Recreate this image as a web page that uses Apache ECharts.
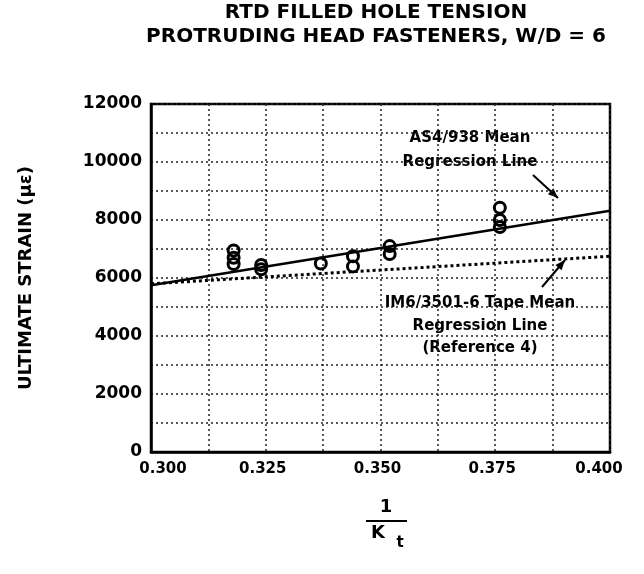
<!DOCTYPE html>
<html>
<head>
<meta charset="utf-8">
<script src="https://cdn.jsdelivr.net/npm/echarts@6/dist/echarts.min.js"></script>
<style>
  html, body { margin: 0; padding: 0; background: #fff; }
  #chart { width: 644px; height: 574px; }
</style>
</head>
<body>
<div id="chart"></div>
<script>
(function () {
    // test points, 1/Kt vs ultimate strain
    var kInv = [0.318, 0.318, 0.318, 0.324, 0.324, 0.337, 0.344, 0.344, 0.352, 0.352, 0.376, 0.376, 0.376];
    var strain = [6950, 6700, 6480, 6450, 6300, 6500, 6750, 6400, 7100, 6830, 8420, 8000, 7760];

    // regression lines (end points)
    var lineX = [0.300, 0.400];
    var as4Line = [5750, 8320];
    var im6Line = [5800, 6750];

    var xTicks = ['0.300', '0.325', '0.350', '0.375', '0.400'];
    var yTicks = [0, 2000, 4000, 6000, 8000, 10000, 12000];

    var font = 'DejaVu Sans';
    var pts = kInv.map(function (x, i) { return [x, strain[i]]; });
    var as4 = lineX.map(function (x, i) { return [x, as4Line[i]]; });
    var im6 = lineX.map(function (x, i) { return [x, im6Line[i]]; });

    function arrowHead(x1, y1, x2, y2) {
        var a = Math.atan2(y2 - y1, x2 - x1), len = 10, w = 4;
        var bx = x2 - len * Math.cos(a), by = y2 - len * Math.sin(a);
        return [[x2, y2],
            [bx + w * Math.sin(a), by - w * Math.cos(a)],
            [bx - w * Math.sin(a), by + w * Math.cos(a)]];
    }
    function arrow(x1, y1, x2, y2) {
        return [
            { type: 'line', shape: { x1: x1, y1: y1, x2: x2, y2: y2 }, style: { stroke: '#000', lineWidth: 2 } },
            { type: 'polygon', shape: { points: arrowHead(x1, y1, x2, y2) }, style: { fill: '#000' } }
        ];
    }

    var gridLine = { show: true, lineStyle: { color: '#222', width: 1.5, type: [2, 3] } };

    var myChart = echarts.init(document.getElementById('chart'));
    var option = {
        backgroundColor: '#fff',
        animation: false,
        title: {
            text: 'RTD FILLED HOLE TENSION\nPROTRUDING HEAD FASTENERS, W/D = 6',
            left: 376,
            top: 1,
            padding: 0,
            textAlign: 'center',
            textStyle: { fontFamily: font, fontWeight: 'bold', fontSize: 20, lineHeight: 24, color: '#000' }
        },
        grid: {
            left: 151, right: 34, top: 104, bottom: 122,
            show: true, borderColor: '#000', borderWidth: 2.5, backgroundColor: 'transparent'
        },
        xAxis: {
            type: 'value',
            min: 0.3, max: 0.4, interval: 0.0125,
            axisLine: { lineStyle: { color: '#000', width: 2.5 } },
            axisTick: { show: false },
            splitLine: gridLine,
            axisLabel: {
                margin: 10,
                color: '#000',
                fontFamily: font, fontWeight: 'bold', fontSize: 15,
                formatter: function (v) {
                    var s = v.toFixed(3);
                    var i = xTicks.indexOf(s);
                    if (i < 0) return '';
                    if (i === 0) return '{a|' + s + '}';
                    if (i === xTicks.length - 1) return '{b|' + s + '}';
                    return '{c|' + s + '}';
                },
                rich: {
                    a: { padding: [0, 0, 0, 24], fontFamily: font, fontWeight: 'bold', fontSize: 15, color: '#000' },
                    b: { padding: [0, 22, 0, 0], fontFamily: font, fontWeight: 'bold', fontSize: 15, color: '#000' },
                    c: { padding: [0, 6, 0, 0], fontFamily: font, fontWeight: 'bold', fontSize: 15, color: '#000' }
                }
            }
        },
        yAxis: {
            type: 'value',
            min: 0, max: 12000, interval: 1000,
            name: 'ULTIMATE STRAIN (με)',
            nameLocation: 'middle',
            nameGap: 116,
            nameTextStyle: { fontFamily: font, fontWeight: 'bold', fontSize: 18, color: '#000' },
            axisLine: { show: true, lineStyle: { color: '#000', width: 2.5 } },
            axisTick: { show: false },
            splitLine: gridLine,
            axisLabel: {
                margin: 9,
                color: '#000',
                fontFamily: font, fontWeight: 'bold', fontSize: 17,
                formatter: function (v) { return yTicks.indexOf(v) >= 0 ? String(v) : ''; }
            }
        },
        series: [
            {
                name: 'AS4/938',
                type: 'line',
                data: as4,
                symbol: 'none',
                lineStyle: { color: '#000', width: 2.5 },
                z: 3
            },
            {
                name: 'IM6/3501-6',
                type: 'line',
                data: im6,
                symbol: 'none',
                lineStyle: { color: '#000', width: 3, type: [3, 3] },
                z: 3
            },
            {
                name: 'Tests',
                type: 'scatter',
                data: pts,
                symbol: 'circle',
                symbolSize: 11,
                itemStyle: { color: 'rgba(255,255,255,0)', borderColor: '#000', borderWidth: 3, opacity: 1 },
                z: 4
            }
        ],
        graphic: [
            {
                type: 'text',
                style: {
                    text: 'AS4/938 Mean\nRegression Line', x: 470, y: 126,
                    textAlign: 'center', fontFamily: font, fontWeight: 'bold', fontSize: 15, lineHeight: 24, fill: '#000'
                }
            },
            {
                type: 'text',
                style: {
                    text: 'IM6/3501-6 Tape Mean\nRegression Line\n(Reference 4)', x: 480, y: 292,
                    textAlign: 'center', fontFamily: font, fontWeight: 'bold', fontSize: 15, lineHeight: 22.5, fill: '#000'
                }
            },
            {
                type: 'text',
                style: { text: '1', x: 386, y: 498, textAlign: 'center', fontFamily: font, fontWeight: 'bold', fontSize: 18, fill: '#000' }
            },
            { type: 'line', shape: { x1: 366, y1: 521, x2: 407, y2: 521 }, style: { stroke: '#000', lineWidth: 2 } },
            {
                type: 'text',
                style: { text: 'K', x: 378, y: 524, textAlign: 'center', fontFamily: font, fontWeight: 'bold', fontSize: 18, fill: '#000' }
            },
            {
                type: 'text',
                style: { text: 't', x: 400, y: 536, textAlign: 'center', fontFamily: font, fontWeight: 'bold', fontSize: 15, fill: '#000' }
            }
        ].concat(arrow(533, 175, 558, 198)).concat(arrow(542, 287, 565, 260))
    };
    myChart.setOption(option);
})();
</script>
</body>
</html>
